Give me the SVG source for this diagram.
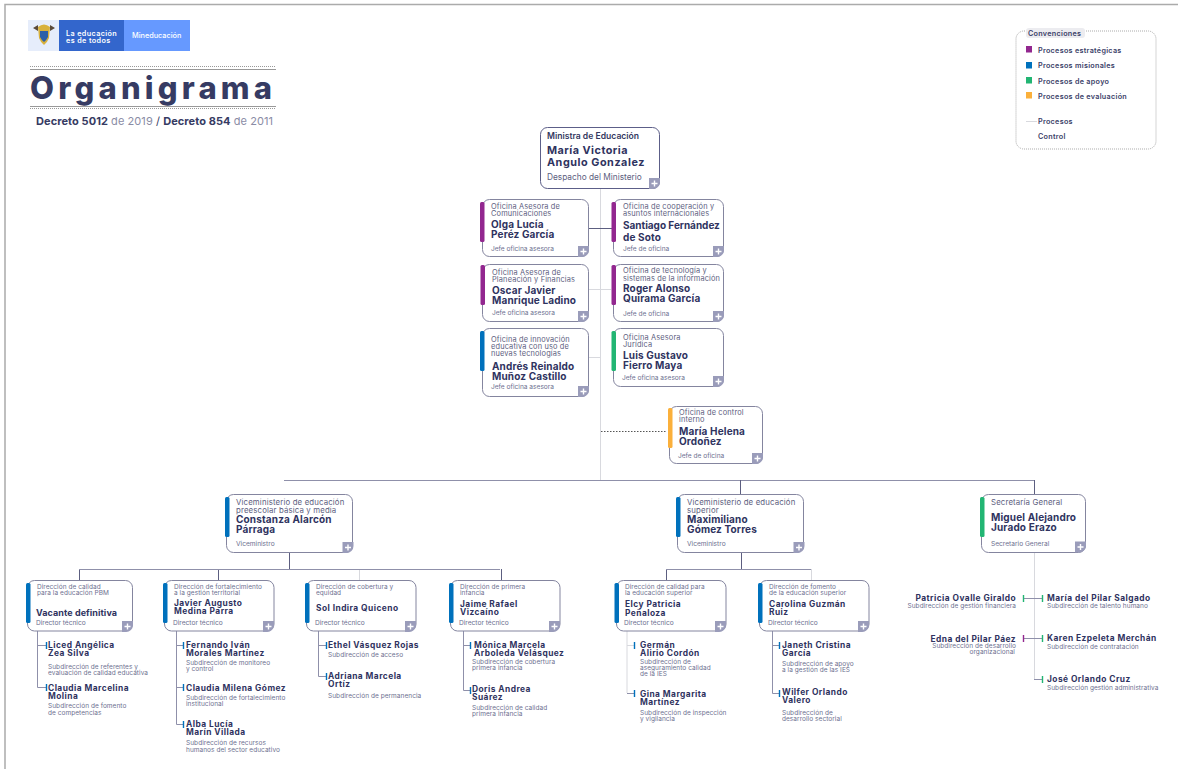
<svg xmlns="http://www.w3.org/2000/svg" width="1178" height="769" viewBox="0 0 1178 769">
<style>
text{font-family:Inter,"Liberation Sans",sans-serif;fill:#34385f}
.t{font-size:7.4px;letter-spacing:.15px;fill:#5d6080}
.s{font-size:6.5px;letter-spacing:.05px;fill:#6d7090}
.r{font-size:6.6px;fill:#6d7090}
.n{font-size:10px;font-weight:700;letter-spacing:.15px;fill:#2f3360}
.m{font-size:8.400px;font-weight:700;letter-spacing:.45px;fill:#2f3360}
.l{font-size:7.200px;font-weight:600;letter-spacing:.3px;fill:#3a3e68}
.box{fill:#fff;stroke:#84859f;stroke-width:1}
.c{fill:none;stroke:#8f90aa;stroke-width:1}
.d{fill:none;stroke:#5c5e80;stroke-width:1}
.g{fill:none;stroke:#d8d9de;stroke-width:1}
.tick{stroke-width:1.4;fill:none}
.pu{fill:#92278f}.bl{fill:#0071bc}.gr{fill:#22b573}.or{fill:#fbb03b}
</style>
<defs>
<g id="plus"><path d="M0 0H11V4A7 7 0 0 1 4 11H0Z" fill="#9a9cba"/><path d="M2.500 5.500H8.500M5.500 2.500V8.500" stroke="#fff" stroke-width="1.400"/></g>
</defs>
<path d="M5 769V4.500H1178" fill="none" stroke="#ababab" stroke-width="1.500"/>

<g id="header">
<rect x="28" y="20" width="31" height="31" fill="#e6edfb"/>
<rect x="59" y="20" width="65" height="31" fill="#3366cc"/>
<rect x="124" y="20" width="66" height="31" fill="#6699ff"/>
<path d="M38 27Q44 22 50 27L49 38Q47 43 44 45Q41 43 39 38Z" fill="#d8b13c"/>
<path d="M40 31H48V37Q46 41 44 42Q42 41 40 37Z" fill="#2b5fa8"/>
<path d="M33 28L38 25V31ZM55 28L50 25V31Z" fill="#5a4a3a"/>
<text x="66" y="36" style="font-size:7.200px;font-weight:600;letter-spacing:.4px;fill:#fff">La educación</text>
<text x="66" y="43" style="font-size:7.200px;font-weight:600;letter-spacing:.4px;fill:#fff">es de todos</text>
<text x="132" y="38" style="font-size:7.300px;font-weight:500;fill:#fff">Mineducación</text>
<path d="M30 66.500H276M30 108.500H276" stroke="#999" stroke-dasharray="1 1" fill="none"/>
<path d="M30 69.500H276M30 106.500H276" stroke="#999" fill="none"/>
<text x="30" y="99" textLength="242" style="font-size:31px;font-weight:800;fill:#363b63">Organigrama</text>
<text x="36" y="125" textLength="237" style="font-size:11px;fill:#8a8ca5"><tspan style="font-weight:700;fill:#363b63">Decreto 5012</tspan> de 2019 <tspan fill="#363b63">/</tspan> <tspan style="font-weight:700;fill:#363b63">Decreto 854</tspan> de 2011</text>
</g>

<g id="legend">
<rect x="1016" y="31" width="140" height="118" rx="8" fill="none" stroke="#aaa" stroke-dasharray="1 1"/>
<rect x="1026" y="28" width="59" height="10" rx="3" fill="#ececf0"/>
<text x="1028" y="35.500" class="l">Convenciones</text>
<rect x="1026" y="46" width="6" height="6.500" class="pu"/>
<rect x="1026" y="62" width="6" height="6.500" class="bl"/>
<rect x="1026" y="77" width="6" height="6.500" class="gr"/>
<rect x="1026" y="92" width="6" height="6.500" class="or"/>
<text x="1038" y="52.500" class="l">Procesos estratégicas</text>
<text x="1038" y="68" class="l">Procesos misionales</text>
<text x="1038" y="83.500" class="l">Procesos de apoyo</text>
<text x="1038" y="99" class="l">Procesos de evaluación</text>
<path d="M1026 121.500H1037" class="g"/>
<text x="1038" y="123.500" class="l">Procesos</text>
<text x="1038" y="139" class="l">Control</text>
</g>

<g id="connectors">
<path d="M600.500 189V480M589 289.500H611M589 357.500H600M1034.500 552V680" class="g"/>
<path d="M359.500 569V580M811.500 569V580M627 631V693M627 645.500H634" class="g"/>
<path d="M589 228.500H612" class="d"/>
<path d="M601 431.500H667" fill="none" stroke="#555" stroke-dasharray="1.500 1.500"/>
<path d="M284 480.500H1034" class="c"/>
<path d="M740.500 480V494M1034.500 480V494M289.500 553V569M741.500 553V569M79.500 569V580M218.500 569V580M501.500 569V580M666.500 569V580" class="d"/>
<path d="M79 569.500H500M666 569.500H811" class="c"/>
<path d="M37.500 631V687.500H46M37.500 645.500H46M176.500 631V724.500H183M176.500 645.500H183M176.500 687.500H183M318.500 631V676.500H326M318.500 645.500H326M463.500 631V690.500H470M463.500 645.500H470M627 693.500H634M772.500 631V693.500H779M772.500 645.500H779" class="c"/>
<path d="M1023 598.500H1042M1023 638.500H1042M1034 679.500H1042" class="c"/>
<g class="tick" stroke="#0071bc">
<path d="M46.500 642V649M46.500 684V691M183.500 642V649M183.500 684V691M183.500 721V728M326.500 642V649M326.500 673V680M470.500 642V649M470.500 687V694M634.500 642V649M634.500 690V697M779.500 642V649M779.500 690V697"/>
</g>
<g class="tick" stroke="#22b573">
<path d="M1023.500 595V602M1042.500 595V602M1042.500 635V642M1042.500 676V683"/>
</g>
<path d="M1023.500 635V642" class="tick" stroke="#92278f"/>
</g>

<g id="ministra">
<rect x="540.500" y="127.500" width="119" height="61" rx="7" class="box" style="stroke:#5c5e88"/>
<text x="547" y="139" style="font-size:8.600px;font-weight:600;fill:#34385f">Ministra de Educación</text>
<text x="547" y="154" style="font-size:10.800px;font-weight:700;letter-spacing:.5px;fill:#2f3360">María Victoria</text>
<text x="547" y="166" style="font-size:10.800px;font-weight:700;letter-spacing:.55px;fill:#2f3360">Angulo Gonzalez</text>
<text x="547" y="180" style="font-size:8.300px;fill:#5d6080">Despacho del Ministerio</text>
<use href="#plus" x="649" y="178"/>
</g>

<g id="of-comunicaciones">
<rect x="482.500" y="199.500" width="106" height="57" rx="7" class="box"/>
<rect x="480" y="202" width="4.500" height="40" rx="1.500" class="pu"/>
<text x="491" y="209" class="t">Oficina Asesora de</text><text x="491" y="216" class="t">Comunicaciones</text>
<text x="491" y="228" class="n">Olga Lucía</text><text x="491" y="238" class="n">Peréz García</text>
<text x="491" y="251" class="r">Jefe oficina asesora</text>
<use href="#plus" x="578" y="246"/>
</g>
<g id="of-cooperacion">
<rect x="613.500" y="199.500" width="110" height="57" rx="7" class="box"/>
<rect x="611.500" y="202" width="4.500" height="40" rx="1.500" class="pu"/>
<text x="623" y="209" class="t">Oficina de cooperación y</text><text x="623" y="216" class="t">asuntos internacionales</text>
<text x="623" y="229" class="n" textLength="97">Santiago Fernández</text><text x="623" y="241" class="n">de Soto</text>
<text x="623" y="251" class="r">Jefe de oficina</text>
<use href="#plus" x="713" y="246"/>
</g>
<g id="of-planeacion">
<rect x="482.500" y="264.500" width="106" height="57" rx="7" class="box"/>
<rect x="480.500" y="265" width="4.500" height="40" rx="1.500" class="pu"/>
<text x="492" y="275" class="t">Oficina Asesora de</text><text x="492" y="282" class="t">Planeación y Financias</text>
<text x="492" y="294" class="n">Oscar Javier</text><text x="492" y="304" class="n">Manrique Ladino</text>
<text x="492" y="315" class="r">Jefe oficina asesora</text>
<use href="#plus" x="578" y="311"/>
</g>
<g id="of-tecnologia">
<rect x="613.500" y="264.500" width="110" height="57" rx="7" class="box"/>
<rect x="611.500" y="265" width="4.500" height="40" rx="1.500" class="pu"/>
<text x="623" y="273" class="t">Oficina de tecnología y</text><text x="623" y="281" class="t">sistemas de la información</text>
<text x="623" y="292" class="n">Roger Alonso</text><text x="623" y="302" class="n">Quirama García</text>
<text x="623" y="316" class="r">Jefe de oficina</text>
<use href="#plus" x="713" y="311"/>
</g>
<g id="of-innovacion">
<rect x="482.500" y="328.500" width="106" height="68" rx="7" class="box"/>
<rect x="480" y="331" width="4.500" height="40" rx="1.500" class="bl"/>
<text x="491" y="342" class="t">Oficina de innovación</text><text x="491" y="349" class="t">educativa con uso de</text><text x="491" y="356" class="t">nuevas tecnologías</text>
<text x="492" y="370" class="n">Andrés Reinaldo</text><text x="492" y="380" class="n">Muñoz Castillo</text>
<text x="491" y="389" class="r">Jefe oficina asesora</text>
<use href="#plus" x="578" y="386"/>
</g>
<g id="of-juridica">
<rect x="613.500" y="328.500" width="110" height="58" rx="7" class="box"/>
<rect x="611.500" y="331" width="4.500" height="40" rx="1.500" class="gr"/>
<text x="623" y="340" class="t">Oficina Asesora</text><text x="623" y="347" class="t">Jurídica</text>
<text x="623" y="359" class="n">Luis Gustavo</text><text x="623" y="369" class="n">Fierro Maya</text>
<text x="622" y="380" class="r">Jefe oficina asesora</text>
<use href="#plus" x="713" y="376"/>
</g>
<g id="of-control">
<rect x="669.500" y="406.500" width="93" height="57" rx="7" class="box"/>
<rect x="668" y="408" width="4.500" height="40" rx="1.500" class="or"/>
<text x="679" y="415" class="t">Oficina de control</text><text x="679" y="422" class="t">interno</text>
<text x="679" y="435" class="n">María Helena</text><text x="679" y="445" class="n">Ordoñez</text>
<text x="678" y="458" class="r">Jefe de oficina</text>
<use href="#plus" x="752" y="453"/>
</g>

<g id="vice-preescolar">
<rect x="226.500" y="494.500" width="126" height="58" rx="7" class="box"/>
<rect x="225" y="497" width="4.500" height="40" rx="1.500" class="bl"/>
<text x="236" y="505" class="t" style="font-size:7.800px">Viceministerio de educación</text><text x="236" y="513" class="t" style="font-size:7.800px">preescolar básica y media</text>
<text x="236" y="523" class="n">Constanza Alarcón</text><text x="236" y="533" class="n">Párraga</text>
<text x="236" y="546" class="r">Viceministro</text>
<use href="#plus" x="342.500" y="542"/>
</g>
<g id="vice-superior">
<rect x="677.500" y="494.500" width="126" height="58" rx="7" class="box"/>
<rect x="676" y="497" width="4.500" height="40" rx="1.500" class="bl"/>
<text x="687" y="505" class="t" style="font-size:7.800px">Viceministerio de educación</text><text x="687" y="513" class="t" style="font-size:7.800px">superior</text>
<text x="687" y="523" class="n">Maximiliano</text><text x="687" y="533" class="n">Gómez Torres</text>
<text x="687" y="546" class="r">Viceministro</text>
<use href="#plus" x="793.500" y="542"/>
</g>
<g id="secretaria">
<rect x="981.500" y="494.500" width="104" height="58" rx="7" class="box"/>
<rect x="980" y="497" width="4.500" height="40" rx="1.500" class="gr"/>
<text x="991" y="505" class="t" style="font-size:7.800px">Secretaría General</text>
<text x="991" y="521" class="n">Miguel Alejandro</text><text x="991" y="531" class="n">Jurado Erazo</text>
<text x="991" y="546" class="r">Secretario General</text>
<use href="#plus" x="1075" y="541.500"/>
</g>

<g id="dir-calidad-pbm">
<rect x="27.500" y="580.500" width="105" height="50.500" rx="7" class="box"/>
<rect x="26" y="583" width="4.500" height="40" rx="1.500" class="bl"/>
<text x="37" y="589" class="s">Dirección de calidad</text><text x="37" y="595" class="s">para la educación PBM</text>
<text x="36" y="616" textLength="81" style="font-size:9px;font-weight:700;fill:#2f3360">Vacante definitiva</text>
<text x="36" y="625" class="r">Director técnico</text>
<use href="#plus" x="122" y="621"/>
</g>
<g id="dir-fortalecimiento">
<rect x="164.500" y="580.500" width="109.500" height="50.500" rx="7" class="box"/>
<rect x="163" y="583" width="4.500" height="40" rx="1.500" class="bl"/>
<text x="174" y="589" class="s">Dirección de fortalecimiento</text><text x="174" y="595" class="s">a la gestión territorial</text>
<text x="174" y="606" class="m">Javier Augusto</text><text x="174" y="614" class="m">Medina Parra</text>
<text x="173" y="625" class="r">Director técnico</text>
<use href="#plus" x="263" y="621"/>
</g>
<g id="dir-cobertura">
<rect x="306.500" y="580.500" width="109.500" height="50.500" rx="7" class="box"/>
<rect x="305" y="583" width="4.500" height="40" rx="1.500" class="bl"/>
<text x="316" y="589" class="s">Dirección de cobertura y</text><text x="316" y="595" class="s">equidad</text>
<text x="316" y="611" class="m">Sol Indira Quiceno</text>
<text x="315" y="625" class="r">Director técnico</text>
<use href="#plus" x="405" y="621"/>
</g>
<g id="dir-primera-infancia">
<rect x="450.500" y="580.500" width="109.500" height="50.500" rx="7" class="box"/>
<rect x="449" y="583" width="4.500" height="40" rx="1.500" class="bl"/>
<text x="460" y="589" class="s">Dirección de primera</text><text x="460" y="595" class="s">infancia</text>
<text x="460" y="607" class="m">Jaime Rafael</text><text x="460" y="615" class="m">Vizcaíno</text>
<text x="459" y="625" class="r">Director técnico</text>
<use href="#plus" x="549" y="621"/>
</g>
<g id="dir-calidad-superior">
<rect x="616.500" y="580.500" width="109.500" height="50.500" rx="7" class="box"/>
<rect x="614.500" y="583" width="4.500" height="40" rx="1.500" class="bl"/>
<text x="625" y="589" class="s">Dirección de calidad para</text><text x="625" y="595" class="s">la educación superior</text>
<text x="625" y="607" class="m">Elcy Patricia</text><text x="625" y="616" class="m">Peñaloza</text>
<text x="624" y="625" class="r">Director técnico</text>
<use href="#plus" x="715" y="621"/>
</g>
<g id="dir-fomento">
<rect x="759.500" y="580.500" width="109.500" height="50.500" rx="7" class="box"/>
<rect x="758" y="583" width="4.500" height="40" rx="1.500" class="bl"/>
<text x="769" y="589" class="s">Dirección de fomento</text><text x="769" y="595" class="s">de la educación superior</text>
<text x="769" y="607" class="m">Carolina Guzmán</text><text x="769" y="615" class="m">Ruiz</text>
<text x="768" y="625" class="r">Director técnico</text>
<use href="#plus" x="858" y="621"/>
</g>

<g id="sub-liced"><text x="48" y="648" class="m">Liced Angélica</text><text x="48" y="656" class="m">Zea Silva</text><text x="48" y="669" class="s" textLength="90">Subdirección de referentes y</text><text x="48" y="675" class="s" textLength="100">evaluación de calidad educativa</text></g>
<g id="sub-claudia-marcelina"><text x="48" y="691" class="m">Claudia Marcelina</text><text x="48" y="699" class="m">Molina</text><text x="48" y="708" class="s">Subdirección de fomento</text><text x="48" y="715" class="s">de competencias</text></g>
<g id="sub-fernando"><text x="186" y="648" class="m">Fernando Iván</text><text x="186" y="656" class="m">Morales Martínez</text><text x="186" y="665" class="s">Subdirección de monitoreo</text><text x="186" y="671" class="s">y control</text></g>
<g id="sub-claudia-milena"><text x="186" y="691" class="m">Claudia Milena Gómez</text><text x="186" y="700" class="s">Subdirección de fortalecimiento</text><text x="186" y="706" class="s">institucional</text></g>
<g id="sub-alba"><text x="186" y="727" class="m">Alba Lucía</text><text x="186" y="735" class="m">Marín Villada</text><text x="186" y="745" class="s">Subdirección de recursos</text><text x="186" y="752" class="s">humanos del sector educativo</text></g>
<g id="sub-ethel"><text x="328" y="648" class="m">Ethel Vásquez Rojas</text><text x="328" y="657" class="s">Subdirección de acceso</text></g>
<g id="sub-adriana"><text x="328" y="679" class="m">Adriana Marcela</text><text x="328" y="687" class="m">Ortíz</text><text x="328" y="698" class="s">Subdirección de permanencia</text></g>
<g id="sub-monica"><text x="474" y="648" class="m">Mónica Marcela</text><text x="474" y="656" class="m">Arboleda Velásquez</text><text x="472" y="664" class="s">Subdirección de cobertura</text><text x="472" y="670" class="s">primera infancia</text></g>
<g id="sub-doris"><text x="472" y="692" class="m">Doris Andrea</text><text x="472" y="700" class="m">Suárez</text><text x="472" y="710" class="s">Subdirección de calidad</text><text x="472" y="716" class="s">primera infancia</text></g>
<g id="sub-german"><text x="640" y="648" class="m">Germán</text><text x="640" y="656" class="m">Alirio Cordón</text><text x="640" y="664" class="s">Subdirección de</text><text x="640" y="670" class="s">aseguramiento calidad</text><text x="640" y="676" class="s">de la IES</text></g>
<g id="sub-gina"><text x="640" y="697" class="m">Gina Margarita</text><text x="640" y="705" class="m">Martínez</text><text x="640" y="715" class="s">Subdirección de inspección</text><text x="640" y="721" class="s">y vigilancia</text></g>
<g id="sub-janeth"><text x="782" y="648" class="m">Janeth Cristina</text><text x="782" y="656" class="m">García</text><text x="782" y="666" class="s">Subdirección de apoyo</text><text x="782" y="672" class="s">a la gestión de las IES</text></g>
<g id="sub-wilfer"><text x="782" y="695" class="m">Wilfer Orlando</text><text x="782" y="703" class="m">Valero</text><text x="782" y="715" class="s">Subdirección de</text><text x="782" y="721" class="s">desarrollo sectorial</text></g>

<g id="sub-patricia" text-anchor="end"><text x="1016" y="601" class="m">Patricia Ovalle Giraldo</text><text x="1016" y="608" class="s">Subdirección de gestión financiera</text></g>
<g id="sub-edna" text-anchor="end"><text x="1016" y="642" class="m">Edna del Pilar Páez</text><text x="1016" y="648" class="s">Subdirección de desarrollo</text><text x="1015" y="654" class="s">organizacional</text></g>
<g id="sub-maria"><text x="1047" y="601" class="m">María del Pilar Salgado</text><text x="1047" y="608" class="s">Subdirección de talento humano</text></g>
<g id="sub-karen"><text x="1047" y="641" class="m">Karen Ezpeleta Merchán</text><text x="1047" y="649" class="s">Subdirección de contratación</text></g>
<g id="sub-jose"><text x="1047" y="682" class="m">José Orlando Cruz</text><text x="1047" y="690" class="s">Subdirección gestión administrativa</text></g>
</svg>
